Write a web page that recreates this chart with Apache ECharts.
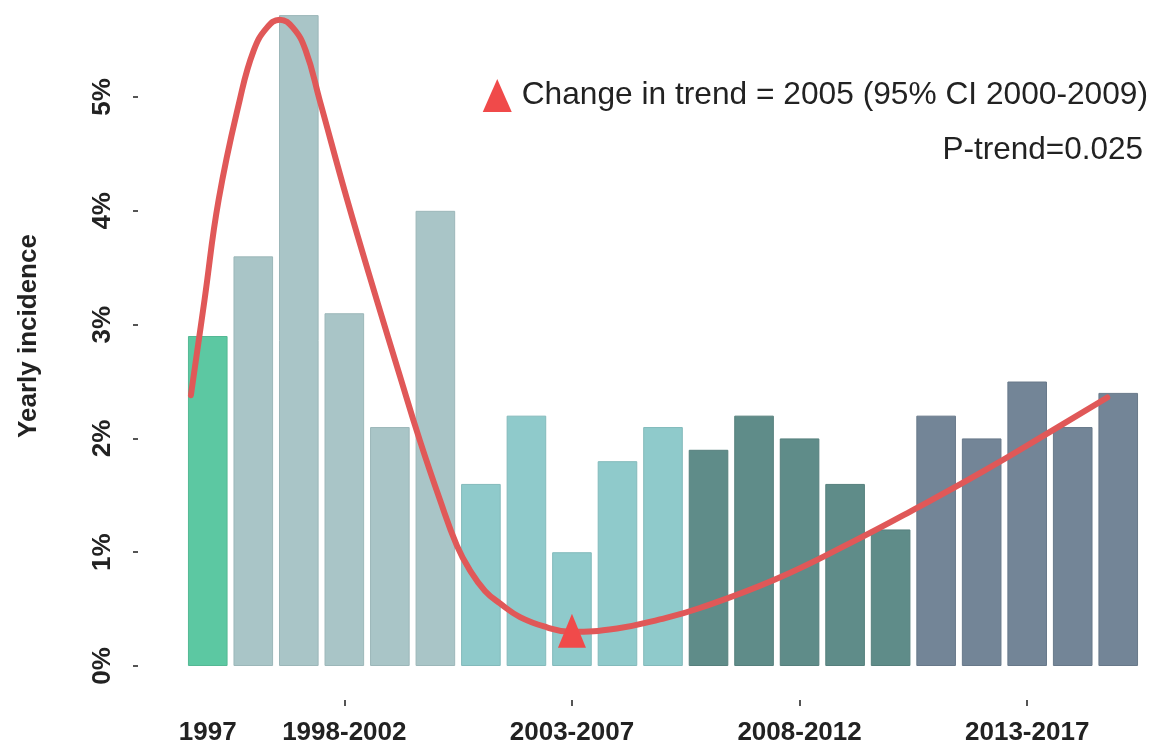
<!DOCTYPE html>
<html>
<head>
<meta charset="utf-8">
<script src="https://cdn.jsdelivr.net/npm/echarts@6/dist/echarts.min.js"></script>
<style>
  html, body { margin: 0; padding: 0; background: #ffffff; }
  #chart { width: 1167px; height: 752px; }
</style>
</head>
<body>
<div id="chart"></div>
<script>
// ---- data ----
const years = ['1997','1998','1999','2000','2001','2002','2003','2004','2005','2006','2007',
               '2008','2009','2010','2011','2012','2013','2014','2015','2016','2017'];
const incidence = [2.9, 3.6, 5.72, 3.1, 2.1, 4.0, 1.6, 2.2, 1.0, 1.8, 2.1,
                   1.9, 2.2, 2.0, 1.6, 1.2, 2.2, 2.0, 2.5, 2.1, 2.4];
const periodOfYear = [0, 1,1,1,1,1, 2,2,2,2,2, 3,3,3,3,3, 4,4,4,4,4];
const periodLabels = ['1997', '1998-2002', '2003-2007', '2008-2012', '2013-2017'];
const periodLabelYears = ['1997', '2000', '2005', '2010', '2015'];
const tickYears = ['2000', '2005', '2010', '2015'];
const yTicks = [0, 1, 2, 3, 4, 5];

const trendYears = [1996.63, 1996.93, 1997.24, 1997.70, 1998.01, 1998.30, 1998.58, 1998.87,
                    1999.15, 1999.46, 2000.06, 2000.71, 2001.22, 2001.66, 2002.10, 2002.47,
                    2002.76, 2003.09, 2003.42, 2003.86, 2004.45, 2004.96, 2005.99, 2006.93,
                    2007.81, 2009.46, 2011.11, 2012.58, 2014.03, 2015.51, 2016.76];
const trendValues = [2.38, 3.22, 4.10, 4.97, 5.41, 5.61, 5.68, 5.61,
                     5.41, 4.97, 4.10, 3.22, 2.55, 1.98, 1.46, 1.06,
                     0.84, 0.66, 0.55, 0.43, 0.34, 0.30, 0.33, 0.41,
                     0.51, 0.76, 1.08, 1.39, 1.71, 2.06, 2.36];

const changeYear = [2005];
const changeValue = [0.31];
const changeLabel = 'Change in trend = 2005 (95% CI 2000-2009)';
const pTrendLabel = 'P-trend=0.025';

// ---- styles ----
const periodColors = ['#5cc8a2', '#a9c5c7', '#8fcacb', '#5f8c89', '#738597'];
const periodBorders = ['#54b894', '#9cb7b9', '#83babb', '#56807d', '#68798a'];
const FONT = "'Liberation Sans', Arial, Helvetica, sans-serif";
const TXT = '#222222';

const barData = incidence.map((v, i) => ({
  value: v,
  itemStyle: { color: periodColors[periodOfYear[i]], borderColor: periodBorders[periodOfYear[i]], borderWidth: 1 }
}));
const trendData = trendYears.map((y, i) => [y, trendValues[i]]);
const changeData = changeYear.map((y, i) => [y, changeValue[i]]);

const chart = echarts.init(document.getElementById('chart'), null, { renderer: 'canvas' });
chart.setOption({
  animation: false,
  backgroundColor: '#ffffff',
  textStyle: { fontFamily: FONT },
  grid: { left: 185, right: 26, top: 6, bottom: 86 },
  title: {
    text: pTrendLabel,
    right: 19, top: 129,
    textStyle: { fontFamily: FONT, fontSize: 31.5, fontWeight: 'normal', color: TXT }
  },
  legend: {
    data: [changeLabel],
    right: 14, top: 74,
    icon: 'triangle',
    itemWidth: 29, itemHeight: 33,
    itemGap: 10,
    textStyle: { fontFamily: FONT, fontSize: 31.7, color: TXT, padding: [0, 0, 0, 5] }
  },
  xAxis: [
    {
      type: 'category',
      data: years,
      offset: 34,
      axisLine: { show: false, onZero: false },
      axisTick: {
        show: true, alignWithLabel: true, length: 6,
        interval: (idx, val) => tickYears.indexOf(val) >= 0,
        lineStyle: { color: '#555', width: 2 }
      },
      axisLabel: {
        interval: (idx, val) => periodLabelYears.indexOf(val) >= 0,
        formatter: (val) => { const k = periodLabelYears.indexOf(val); return k >= 0 ? periodLabels[k] : ''; },
        fontFamily: FONT, fontSize: 26, fontWeight: 'bold', color: TXT, margin: 20
      },
      splitLine: { show: false }
    },
    {
      type: 'value',
      min: 1996.5, max: 2017.5,
      show: false
    }
  ],
  yAxis: {
    type: 'value',
    min: 0, max: 5.8, interval: 1,
    offset: 47,
    name: 'Yearly incidence',
    nameLocation: 'middle',
    nameRotate: 90,
    nameGap: 96,
    nameTextStyle: { fontFamily: FONT, fontSize: 26, fontWeight: 'bold', color: TXT },
    axisLine: { show: false, onZero: false },
    axisTick: { show: true, length: 5, customValues: yTicks, lineStyle: { color: '#555', width: 2 } },
    axisLabel: {
      customValues: yTicks,
      rotate: 90,
      margin: 22,
      formatter: (v) => (Number.isInteger(v) ? v + '%' : ''),
      fontFamily: FONT, fontSize: 26, fontWeight: 'bold', color: TXT
    },
    splitLine: { show: false }
  },
  series: [
    {
      type: 'bar',
      name: 'Yearly incidence',
      data: barData,
      barWidth: '87%',
      xAxisIndex: 0,
      z: 2
    },
    {
      type: 'line',
      name: 'trend',
      xAxisIndex: 1,
      data: trendData,
      smooth: 0.45,
      showSymbol: false,
      lineStyle: { color: '#e05858', width: 6, cap: 'round', join: 'round' },
      itemStyle: { color: '#e05858' },
      z: 3
    },
    {
      type: 'scatter',
      name: changeLabel,
      xAxisIndex: 1,
      data: changeData,
      symbol: 'triangle',
      symbolSize: [28, 34],
      itemStyle: { color: '#f04a4a', opacity: 1 },
      z: 4
    }
  ]
});
</script>
</body>
</html>
